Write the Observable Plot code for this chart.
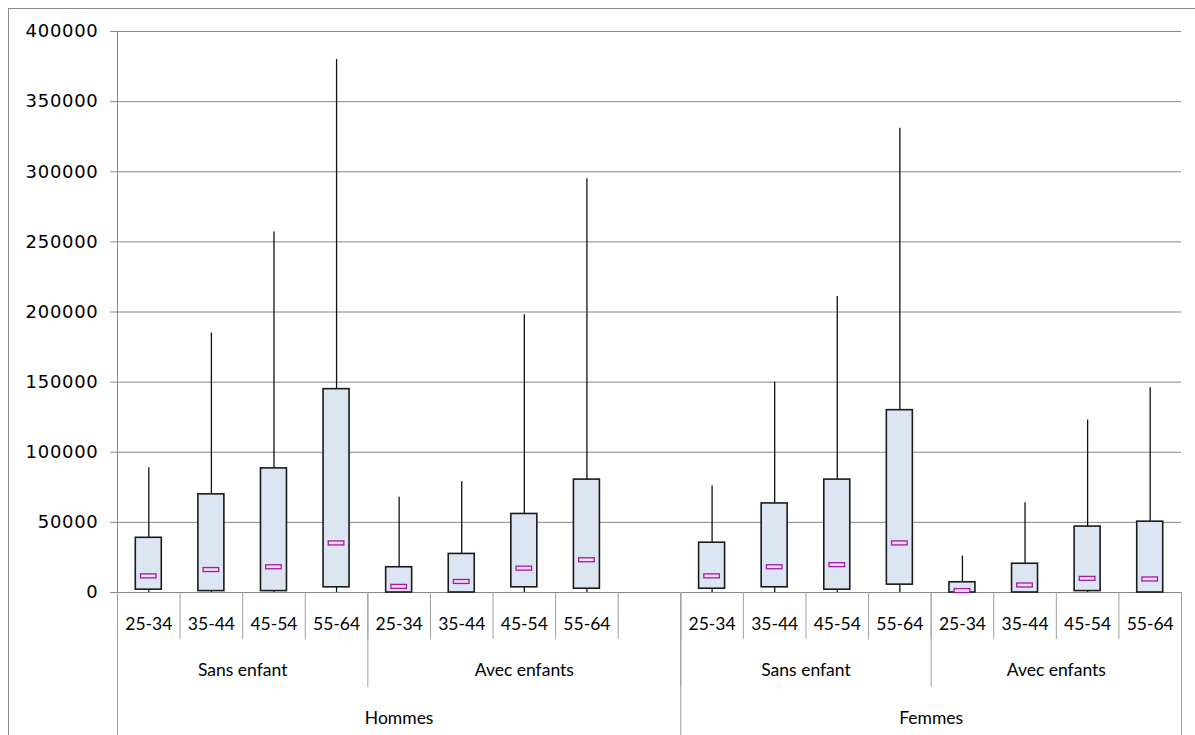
<!DOCTYPE html>
<html>
<head>
<meta charset="utf-8">
<script src="https://cdn.jsdelivr.net/npm/d3@7"></script>
<script src="https://cdn.jsdelivr.net/npm/@observablehq/plot@0.6"></script>
<style>
  html, body { margin: 0; padding: 0; background: #fff; overflow: hidden; width: 1195px; height: 735px; }
  #frame { position: absolute; left: 8px; top: 8px; width: 1400px; height: 1000px; border: 1px solid #8c8c8c; box-sizing: border-box; }
  #chart { position: absolute; left: 0; top: 0; }
  #chart svg { background: transparent; font-family: Lato, "Open Sans", sans-serif; font-size: 17.5px; color: #000; }
  #chart g[aria-label="y-axis tick label"] text { font-family: "DejaVu Sans", sans-serif; font-size: 18px; letter-spacing: 0.7px; }
</style>
</head>
<body>
<div id="frame"></div>
<div id="chart"></div>
<script>
// ---- data ----
const sexes = ["Hommes", "Femmes"];
const children = ["Sans enfant", "Avec enfants"];
const ages = ["25-34", "35-44", "45-54", "55-64"];
// order: Hommes/Sans, Hommes/Avec, Femmes/Sans, Femmes/Avec ; each by age
const maxV   = [89000, 185000, 257000, 380000,   68000, 79000, 198000, 295000,   76000, 150000, 211000, 331000,   26000, 64000, 123000, 146000];
const q3V    = [39000,  70000,  88500, 145000,   18000, 27500,  56000,  80500,   35500,  63500,  80500, 130000,    7300, 20500,  47000,  50500];
const medV   = [11500,  16000,  18000,  35000,    4000,  7500,  17000,  23000,   11500,  18000,  19500,  35000,    1000,  5000,   9700,   9300];
const q1V    = [ 2000,   1000,   1000,   3700,       0,     0,   3700,   2700,    2700,   3700,   2000,   5600,       0,     0,   1000,      0];
const minV   = [    0,      0,      0,      0,       0,     0,      0,      0,       0,      0,      0,      0,       0,     0,      0,      0];
const yTicks = [0, 50000, 100000, 150000, 200000, 250000, 300000, 350000, 400000];

// ---- build table: each sex group has 4+4 slots plus one empty slot (Hommes) ----
const rows = [];
sexes.forEach((s, si) => children.forEach((c, ci) => ages.forEach((a, ai) => {
  const k = si * 8 + ci * 4 + ai;
  const slot = si * 9 + ci * 4 + ai;
  rows.push({sex: s, child: c, age: a, slot, x1: slot, x2: slot + 1, xc: slot + 0.5,
    min: minV[k], q1: q1V[k], med: medV[k], q3: q3V[k], max: maxV[k]});
})));
const nSlots = 17;

// category axis levels
const ageTicks = rows.map(d => d.xc);
const ageLabel = new Map(rows.map(d => [d.xc, d.age]));
const childGroups = [];
sexes.forEach((s, si) => children.forEach((c, ci) => {
  const start = si * 9 + ci * 4;
  const end = si === 0 ? (ci === 0 ? start + 4 : 9) : start + 4;
  childGroups.push({label: c, start, end, mid: (start + end) / 2});
}));
const sexGroups = sexes.map((s, si) => ({label: s, start: si * 9, end: si === 0 ? 9 : nSlots, mid: si === 0 ? 4.5 : 13}));
const childLabel = new Map(childGroups.map(g => [g.mid, g.label]));
const sexLabel = new Map(sexGroups.map(g => [g.mid, g.label]));
const slotBounds = d3.range(0, nSlots + 1);
const childBounds = Array.from(new Set(childGroups.flatMap(g => [g.start, g.end])));
const sexBounds = Array.from(new Set(sexGroups.flatMap(g => [g.start, g.end])));

const plot = Plot.plot({
  width: 1195,
  height: 735,
  marginLeft: 117,
  marginRight: 14,
  marginTop: 31,
  marginBottom: 143,
  x: {domain: [0, nSlots], axis: null},
  y: {domain: [0, 400000], axis: null},
  marks: [
    Plot.gridY(yTicks, {stroke: "#878787", strokeOpacity: 1, strokeWidth: 1}),
    Plot.axisY(yTicks, {tickSize: 7, tickPadding: 12, tickFormat: d3.format("d"), stroke: "#878787", label: null}),
    Plot.ruleX([0], {stroke: "#878787"}),
    // category axis separators
    Plot.axisX(slotBounds, {tickSize: 47, tickFormat: () => "", stroke: "#a0a0a0", label: null}),
    Plot.axisX(childBounds, {tickSize: 95, tickFormat: () => "", stroke: "#a0a0a0", label: null}),
    Plot.axisX(sexBounds, {tickSize: 143, tickFormat: () => "", stroke: "#a0a0a0", label: null}),
    // category labels
    Plot.axisX(ageTicks, {tickSize: 0, tickPadding: 25, tickFormat: d => ageLabel.get(d), label: null}),
    Plot.axisX(childGroups.map(g => g.mid), {tickSize: 0, tickPadding: 71, tickFormat: d => childLabel.get(d), label: null}),
    Plot.axisX(sexGroups.map(g => g.mid), {tickSize: 0, tickPadding: 119, tickFormat: d => sexLabel.get(d), label: null}),
    // whiskers
    Plot.ruleX(rows, {x: "xc", y1: "q3", y2: "max", stroke: "#111", strokeWidth: 1.3}),
    Plot.ruleX(rows, {x: "xc", y1: "min", y2: "q1", stroke: "#111", strokeWidth: 1.3}),
    // boxes
    Plot.rect(rows, {x1: "x1", x2: "x2", y1: "q1", y2: "q3", insetLeft: 18.3, insetRight: 18.3,
      fill: "#dce6f2", stroke: "#1a1a1a", strokeWidth: 1.6}),
    // median markers
    Plot.rect(rows, {x1: "x1", x2: "x2", y1: "med", y2: "med", insetLeft: 23.5, insetRight: 23.5,
      insetTop: -2, insetBottom: -2, fill: "#f3d6f3", stroke: "#a01ea0", strokeWidth: 1.3})
  ]
});
document.getElementById("chart").appendChild(plot);
</script>
</body>
</html>
